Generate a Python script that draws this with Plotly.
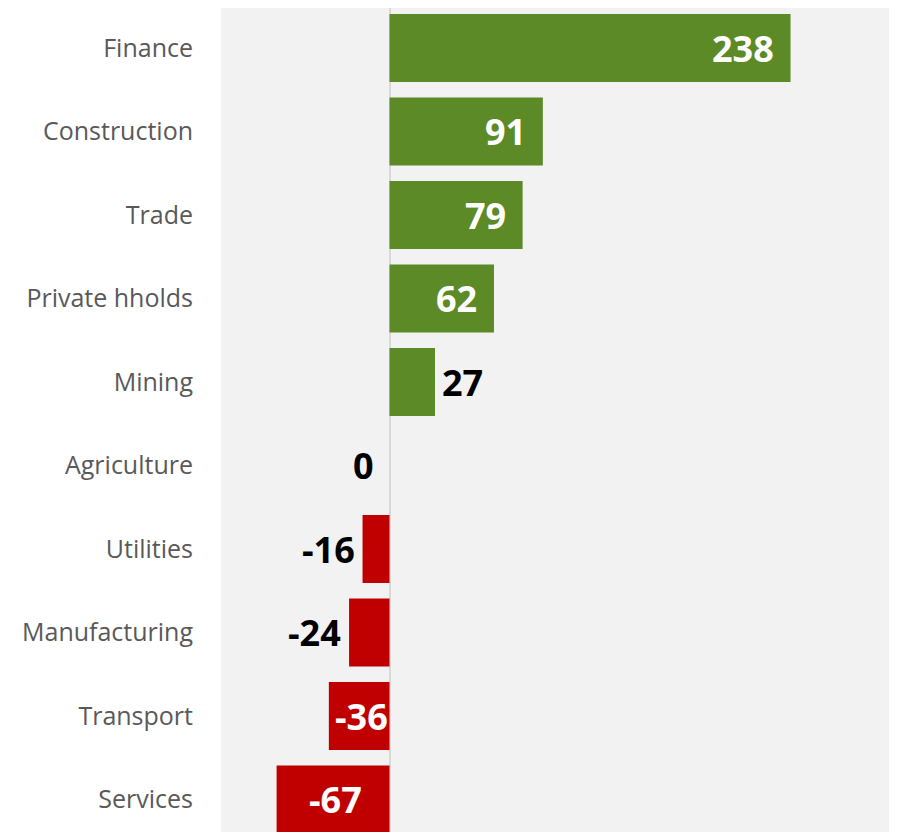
import plotly.graph_objects as go

categories = ["Finance", "Construction", "Trade", "Private hholds", "Mining",
              "Agriculture", "Utilities", "Manufacturing", "Transport", "Services"]
values = [238, 91, 79, 62, 27, 0, -16, -24, -36, -67]

GREEN = "#5B8A26"
RED = "#C00000"
colors = [GREEN if v > 0 else RED for v in values]
ypos = list(range(len(categories)))

fig = go.Figure()
fig.add_trace(go.Bar(
    x=values, y=ypos, orientation="h", marker_color=colors,
    marker_line_width=0, width=0.814, hoverinfo="skip"))

LABEL_FONT = "Open Sans"
LS = 36
for y, v in zip(ypos, values):
    if v >= 40:
        fig.add_annotation(x=v, y=y, text=str(v), showarrow=False, xanchor="right",
                           xshift=-15, font=dict(color="white", size=LS, family=LABEL_FONT))
    elif v <= -30:
        fig.add_annotation(x=v / 2, y=y, text=str(v), showarrow=False, xanchor="center",
                           xshift=2, font=dict(color="white", size=LS, family=LABEL_FONT))
    elif v > 0:
        fig.add_annotation(x=v, y=y, text=str(v), showarrow=False, xanchor="left",
                           xshift=5, font=dict(color="black", size=LS, family=LABEL_FONT))
    else:
        fig.add_annotation(x=v, y=y, text=str(v), showarrow=False, xanchor="right",
                           xshift=-6 if v < 0 else -14, font=dict(color="black", size=LS, family=LABEL_FONT))

fig.update_annotations(font_weight="bold")

fig.update_layout(
    width=889, height=824,
    margin=dict(l=213, r=2, t=0, b=0),
    paper_bgcolor="white", plot_bgcolor="#F2F2F2",
    showlegend=False,
    xaxis=dict(range=[-100, 300], showgrid=False, showticklabels=False, zeroline=True,
               zerolinecolor="#D9D9D9", zerolinewidth=2, fixedrange=True),
    yaxis=dict(range=[9.389, -0.479], tickvals=ypos, ticktext=categories, showgrid=False,
               zeroline=False, ticks="", ticklabelstandoff=27,
               tickfont=dict(family="Open Sans", size=25, color="#595959")),
)

fig.write_html("out.html")
